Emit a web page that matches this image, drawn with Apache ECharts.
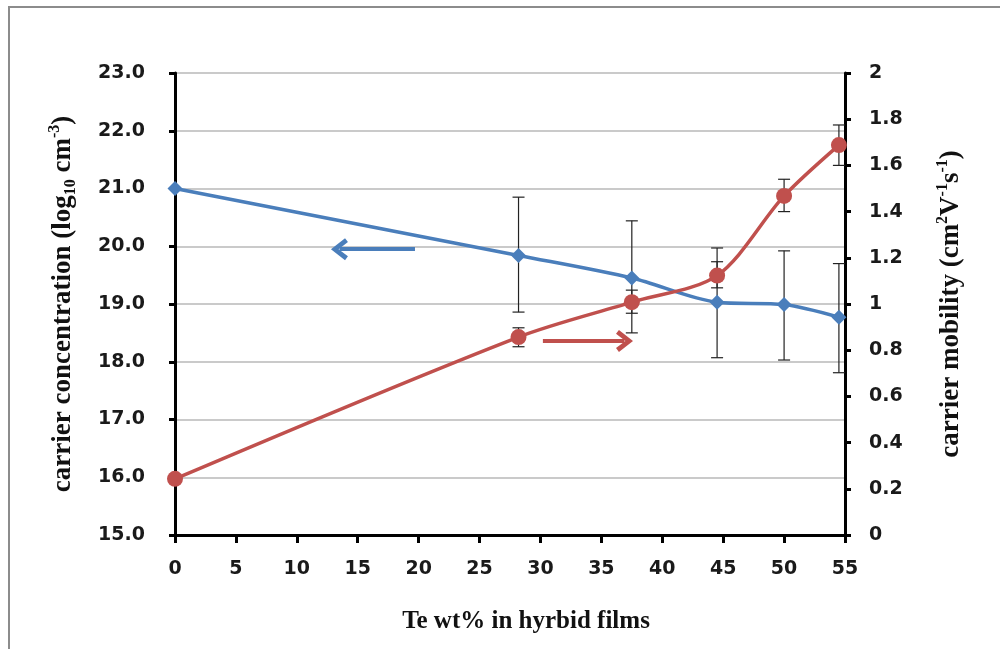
<!DOCTYPE html>
<html>
<head>
<meta charset="utf-8">
<script src="https://cdn.jsdelivr.net/npm/echarts@6/dist/echarts.min.js"></script>
<style>
html,body{margin:0;padding:0;background:#fff;}
#main{width:1000px;height:649px;}
</style>
</head>
<body>
<div id="main"></div>
<script>
// Te wt% of each sample
var teContent = [0, 28.2, 37.5, 44.5, 50, 54.5];
// carrier concentration (log10 cm-3), left axis
var concValues = [21.0, 19.84, 19.45, 19.03, 18.99, 18.77];
var concLow = [null, 18.86, 18.5, 18.07, 18.03, 17.81];
var concHigh = [null, 20.85, 20.44, 19.97, 19.92, 19.7];
// carrier mobility (cm2 V-1 s-1), right axis
var mobValues = [0.243, 0.857, 1.008, 1.123, 1.468, 1.688];
var mobLow = [null, 0.815, 0.96, 1.07, 1.4, 1.6];
var mobHigh = [null, 0.897, 1.06, 1.183, 1.54, 1.775];
// annotation arrows [fromX, toX, y]
var concArrow = [19.7, 13.5, 19.95];
var mobArrow = [30.2, 36.9, 0.84];

var BLUE = '#4a7ebb';
var RED = '#c0504d';
// open chevron head, pointing up before rotation
var CHEVRON = 'path://M0,12 L10,0 L20,12 L16.5,14.5 L10,6.5 L3.5,14.5 Z';

function pairs(xs, ys) {
    var out = [];
    for (var i = 0; i < xs.length; i++) out.push([xs[i], ys[i]]);
    return out;
}
function errData(xs, lo, hi) {
    var out = [];
    for (var i = 0; i < xs.length; i++) {
        if (lo[i] != null) out.push([xs[i], lo[i], hi[i]]);
    }
    return out;
}
function renderErr(params, api) {
    var x = api.value(0);
    var p1 = api.coord([x, api.value(1)]);
    var p2 = api.coord([x, api.value(2)]);
    var w = 6;
    var st = {stroke: '#222', lineWidth: 1.2};
    return {
        type: 'group',
        children: [
            {type: 'line', shape: {x1: p1[0], y1: p1[1], x2: p2[0], y2: p2[1]}, style: st},
            {type: 'line', shape: {x1: p1[0] - w, y1: p1[1], x2: p1[0] + w, y2: p1[1]}, style: st},
            {type: 'line', shape: {x1: p2[0] - w, y1: p2[1], x2: p2[0] + w, y2: p2[1]}, style: st}
        ]
    };
}

var chart = echarts.init(document.getElementById('main'));
var tickFont = {fontFamily: 'DejaVu Sans', fontWeight: 'bold', fontSize: 19, color: '#1a1a1a'};
var serif = 'Liberation Serif';

var option = {
    backgroundColor: '#fff',
    animation: false,
    graphic: [{
        type: 'rect',
        shape: {x: 9, y: 7, width: 1010, height: 660},
        style: {fill: 'none', stroke: '#8c8c8c', lineWidth: 2}
    }],
    grid: {left: 175, right: 155, top: 73, bottom: 114},
    xAxis: {
        type: 'value',
        min: 0, max: 55, interval: 5,
        name: 'Te wt% in hyrbid films',
        nameLocation: 'middle',
        nameGap: 74,
        nameTextStyle: {fontFamily: serif, fontWeight: 'bold', fontSize: 25, color: '#111', padding: [0, 0, 0, 32]},
        axisLine: {lineStyle: {color: '#000', width: 3}},
        axisTick: {show: true, length: 8, lineStyle: {color: '#000', width: 3}},
        axisLabel: Object.assign({margin: 25}, tickFont),
        splitLine: {show: false}
    },
    yAxis: [{
        type: 'value',
        min: 15, max: 23, interval: 1,
        position: 'left',
        name: '{a|carrier concentration (log}{sub|10}{a| cm}{sup|-3}{a|)}',
        nameLocation: 'middle',
        nameGap: 96,
        nameRotate: 90,
        nameTextStyle: {
            rich: {
                a: {fontFamily: serif, fontWeight: 'bold', fontSize: 27, color: '#111', lineHeight: 32},
                sub: {fontFamily: serif, fontWeight: 'bold', fontSize: 16, color: '#111', lineHeight: 32, verticalAlign: 'bottom', padding: [10, 0, 0, 0]},
                sup: {fontFamily: serif, fontWeight: 'bold', fontSize: 16, color: '#111', lineHeight: 32, verticalAlign: 'top', padding: [0, 0, 10, 0]}
            }
        },
        axisLine: {show: true, lineStyle: {color: '#000', width: 3}},
        axisTick: {show: true, length: 6, lineStyle: {color: '#000', width: 3}},
        axisLabel: Object.assign({margin: 30, formatter: function (v) { return v.toFixed(1); }}, tickFont),
        splitLine: {show: true, lineStyle: {color: '#b8b8b8', width: 1.5}}
    }, {
        type: 'value',
        min: 0, max: 2, interval: 0.2,
        position: 'right',
        name: '{a|carrier mobility (cm}{sup|2}{a|V}{sup|-1}{a|s}{sup|-1}{a|)}',
        nameLocation: 'middle',
        nameGap: 90,
        nameRotate: 90,
        nameTextStyle: {
            rich: {
                a: {fontFamily: serif, fontWeight: 'bold', fontSize: 27, color: '#111', lineHeight: 32},
                sup: {fontFamily: serif, fontWeight: 'bold', fontSize: 16, color: '#111', lineHeight: 32, verticalAlign: 'top', padding: [0, 0, 10, 0]}
            }
        },
        axisLine: {show: true, lineStyle: {color: '#000', width: 3}},
        axisTick: {show: true, length: 6, lineStyle: {color: '#000', width: 3}},
        axisLabel: Object.assign({margin: 24, formatter: function (v) { return String(+v.toFixed(1)); }}, tickFont),
        splitLine: {show: false}
    }],
    series: [{
        name: 'concentration',
        type: 'line',
        yAxisIndex: 0,
        data: pairs(teContent, concValues),
        smooth: 0.3,
        symbol: 'diamond',
        symbolSize: 15,
        lineStyle: {color: BLUE, width: 3.5},
        itemStyle: {color: BLUE},
        z: 3,
        markLine: {
            silent: true,
            symbol: ['none', CHEVRON],
            symbolSize: [22, 17],
            label: {show: false},
            lineStyle: {color: BLUE, width: 4, type: 'solid'},
            data: [[{coord: [concArrow[0], concArrow[2]]}, {coord: [concArrow[1], concArrow[2]]}]]
        }
    }, {
        name: 'mobility',
        type: 'line',
        yAxisIndex: 1,
        data: pairs(teContent, mobValues),
        smooth: 0.3,
        symbol: 'circle',
        symbolSize: 16,
        lineStyle: {color: RED, width: 3.5},
        itemStyle: {color: RED},
        z: 3,
        markLine: {
            silent: true,
            symbol: ['none', CHEVRON],
            symbolSize: [22, 17],
            label: {show: false},
            lineStyle: {color: RED, width: 4, type: 'solid'},
            data: [[{coord: [mobArrow[0], mobArrow[2]]}, {coord: [mobArrow[1], mobArrow[2]]}]]
        }
    }, {
        type: 'custom',
        yAxisIndex: 0,
        renderItem: renderErr,
        data: errData(teContent, concLow, concHigh),
        z: 2
    }, {
        type: 'custom',
        yAxisIndex: 1,
        renderItem: renderErr,
        data: errData(teContent, mobLow, mobHigh),
        z: 2
    }]
};
chart.setOption(option);
</script>
</body>
</html>
